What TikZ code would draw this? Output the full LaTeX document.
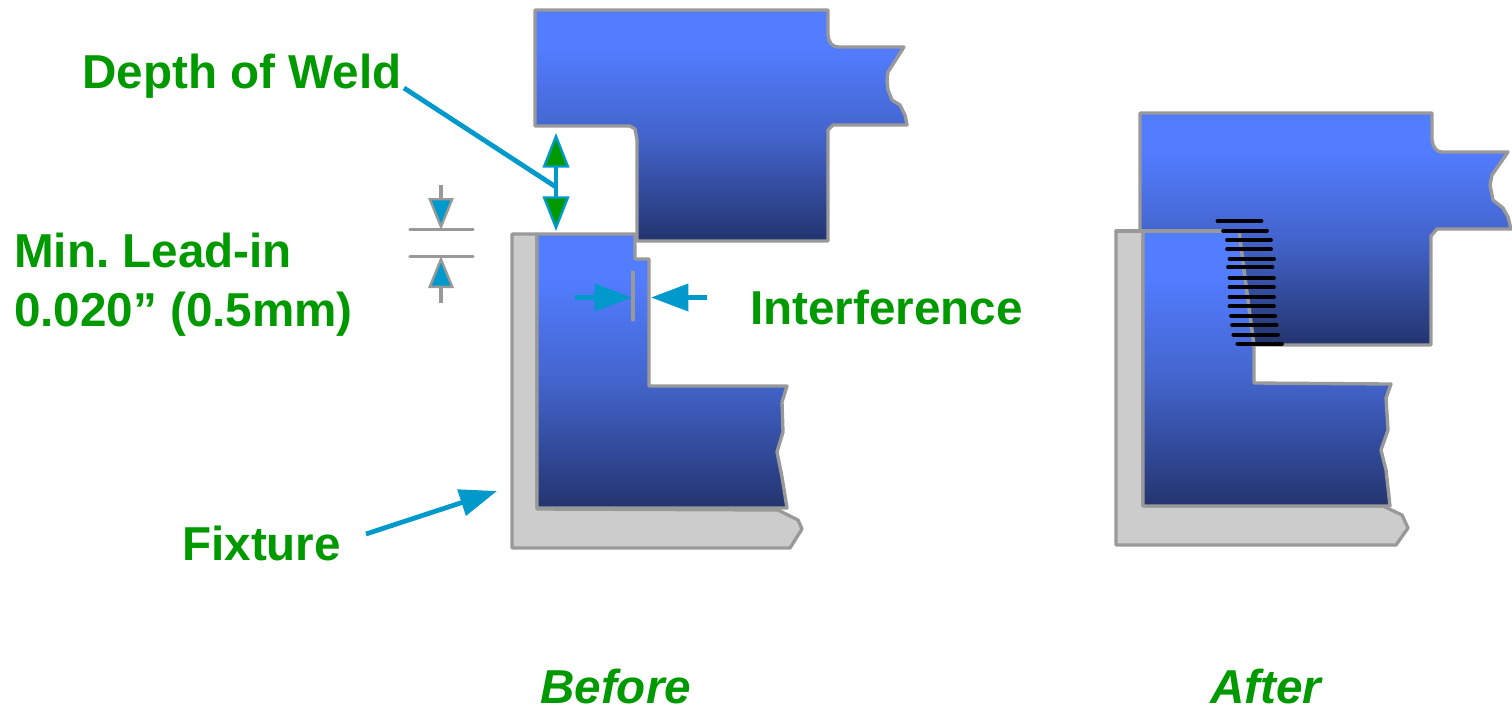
\documentclass[tikz,border=0pt]{standalone}
\usepackage{fontspec}
\setmainfont{Liberation Sans}
\usetikzlibrary{arrows.meta}
\definecolor{partbright}{HTML}{527DFF}
\definecolor{partmid}{HTML}{4364CC}
\definecolor{partdark}{HTML}{23346E}
\definecolor{edgegrey}{HTML}{999999}
\definecolor{fixgrey}{HTML}{CCCCCC}
\definecolor{arrowblue}{HTML}{0099CC}
\definecolor{labelgreen}{HTML}{009900}
\pgfdeclareverticalshading{partgrad}{100bp}{color(0bp)=(partdark); color(25bp)=(partdark); color(48bp)=(partmid); color(67bp)=(partbright); color(100bp)=(partbright)}
\tikzset{
  partfill/.style={shading=partgrad,draw=edgegrey,line width=2.5pt,line join=round},
  fixfill/.style={fill=fixgrey,draw=edgegrey,line width=2.5pt,line join=round},
  greyline/.style={draw=edgegrey,line width=2.5pt,line cap=round},
  label/.style={inner sep=0pt,anchor=base west,text=labelgreen,font=\fontsize{35.7pt}{40pt}\selectfont\bfseries},
  caption/.style={label,font=\fontsize{35.7pt}{40pt}\selectfont\bfseries\itshape},
  leader/.style={draw=arrowblue,line width=3.6pt},
  bluehead/.style={leader,-{Triangle[length=28pt,width=20pt,fill=arrowblue]}},
  greenhead/.style={draw=arrowblue,line width=3pt,
    {Triangle[length=26pt,width=20pt,fill=labelgreen,line width=1.8pt]}-{Triangle[length=26pt,width=20pt,fill=labelgreen,line width=1.8pt]}},
  greyhead/.style={draw=edgegrey,line width=2.5pt,
    -{Triangle[length=24pt,width=19pt,fill=arrowblue,line width=1.8pt]}},
  hatch/.style={draw=black,line width=2.8pt,line cap=round}
}
\begin{document}
\frenchspacing
\begin{tikzpicture}[x=0.75pt,y=-0.75pt]
\useasboundingbox (0,0) rectangle (1512,708);

% ---------- Before ----------
\filldraw[fixfill] (512,234) -- (537,234) -- (537,509) -- (778,510) -- (798,520) -- (802,529) -- (790,548) -- (512,548) -- cycle;
\shadedraw[partfill] (537,234) -- (635,234) -- (635,259) -- (649,259) -- (649,386) -- (787,386) -- (782,402) -- (783,432) -- (777,452) -- (782,477) -- (787,508) -- (537,508) -- cycle;
\shadedraw[partfill] (535,10) -- (828,10) -- (828,35) .. controls (829,43) and (832,47) .. (839,47) -- (904,47) -- (888,72) -- (887,80) -- (888,90) -- (892,100) -- (900,105) -- (905,115) -- (907,125) -- (833,125) -- (828,130) -- (828,241) -- (637,241) -- (637,140) -- (635,129) -- (630,126) -- (535,126) -- cycle;

% ---------- After ----------
\filldraw[fixfill] (1116,231) -- (1143,231) -- (1143,506) -- (1383,506) -- (1402,515) -- (1408,528) -- (1396,545) -- (1116,545) -- cycle;
\shadedraw[partfill] (1143,231) -- (1239,231) -- (1245,277) -- (1250,315) -- (1254,345) -- (1254,383) -- (1391,384) -- (1386,398) -- (1388,430) -- (1381,450) -- (1386,470) -- (1390,506) -- (1143,506) -- cycle;
\shadedraw[partfill] (1140,113) -- (1432,113) -- (1432,140) .. controls (1433,147) and (1436,152) .. (1442,152) -- (1508,152) -- (1492,175) -- (1490,185) -- (1493,200) -- (1503,208) -- (1508,217) -- (1511,229) -- (1437,229) -- (1431,236) -- (1431,345) -- (1254,345) -- (1250,315) -- (1245,277) -- (1239,231) -- (1140,231) -- cycle;
\draw[greyline] (1116,231) -- (1239,231);

\foreach \xa/\xb/\yy in {1217.5/1261.5/221,1223/1267/230.7,1227/1271/240,1227/1271/249.3,1229.5/1274/259,1228/1272.5/267,1229.5/1274/277.7,1229.5/1274/287.3,1229.5/1274/297,1229.5/1274/306.3,1231/1275.3/315.7,1232/1276.7/325.3,1233.3/1278/334.7,1237.3/1282/344}
  \draw[hatch] (\xa,\yy) -- (\xb,\yy);

% ---------- Labels ----------
\node[label] (depth) at (82,88) {Depth of Weld};
\node[label] (leadone) at (14,267) {Min. Lead-in};
\node[label] (leadtwo) at (14,326) {0.020” (0.5mm)};
\node[label] (interf) at (750,324) {Interference};
\node[label] (fixture) at (182,560) {Fixture};
\node[caption] (before) at (540,703) {Before};
\node[caption] (after) at (1210,703) {After};

% ---------- Connector end points ----------
\coordinate (depthfrom) at (404,88);
\coordinate (depthto) at (556,187);
\coordinate (weldtop) at (556,133);
\coordinate (weldbot) at (556,231);
\coordinate (fixfrom) at (366,534);
\coordinate (fixto) at (497,491);
\coordinate (ltopa) at (441,185);
\coordinate (ltopb) at (441,230);
\coordinate (lbota) at (441,303);
\coordinate (lbotb) at (441,256);
\coordinate (ifla) at (575,297.5);
\coordinate (iflb) at (632,297.5);
\coordinate (ifra) at (707,297.5);
\coordinate (ifrb) at (651,297.5);
\coordinate (gapa) at (633,272);
\coordinate (gapb) at (633,320);
\coordinate (lsa) at (410,229.5);
\coordinate (lsb) at (473,229.5);
\coordinate (lsc) at (410,256.5);
\coordinate (lsd) at (473,256.5);

% ---------- Connectors ----------
\draw[leader] (depthfrom) -- (depthto);
\draw[greenhead] (weldtop) -- (weldbot);
\draw[bluehead] (fixfrom) -- (fixto);
\draw[greyline] (lsa) -- (lsb);
\draw[greyline] (lsc) -- (lsd);
\draw[greyhead] (ltopa) -- (ltopb);
\draw[greyhead] (lbota) -- (lbotb);
\draw[greyline] (gapa) -- (gapb);
\draw[bluehead] (ifla) -- (iflb);
\draw[bluehead] (ifra) -- (ifrb);
\end{tikzpicture}
\end{document}
